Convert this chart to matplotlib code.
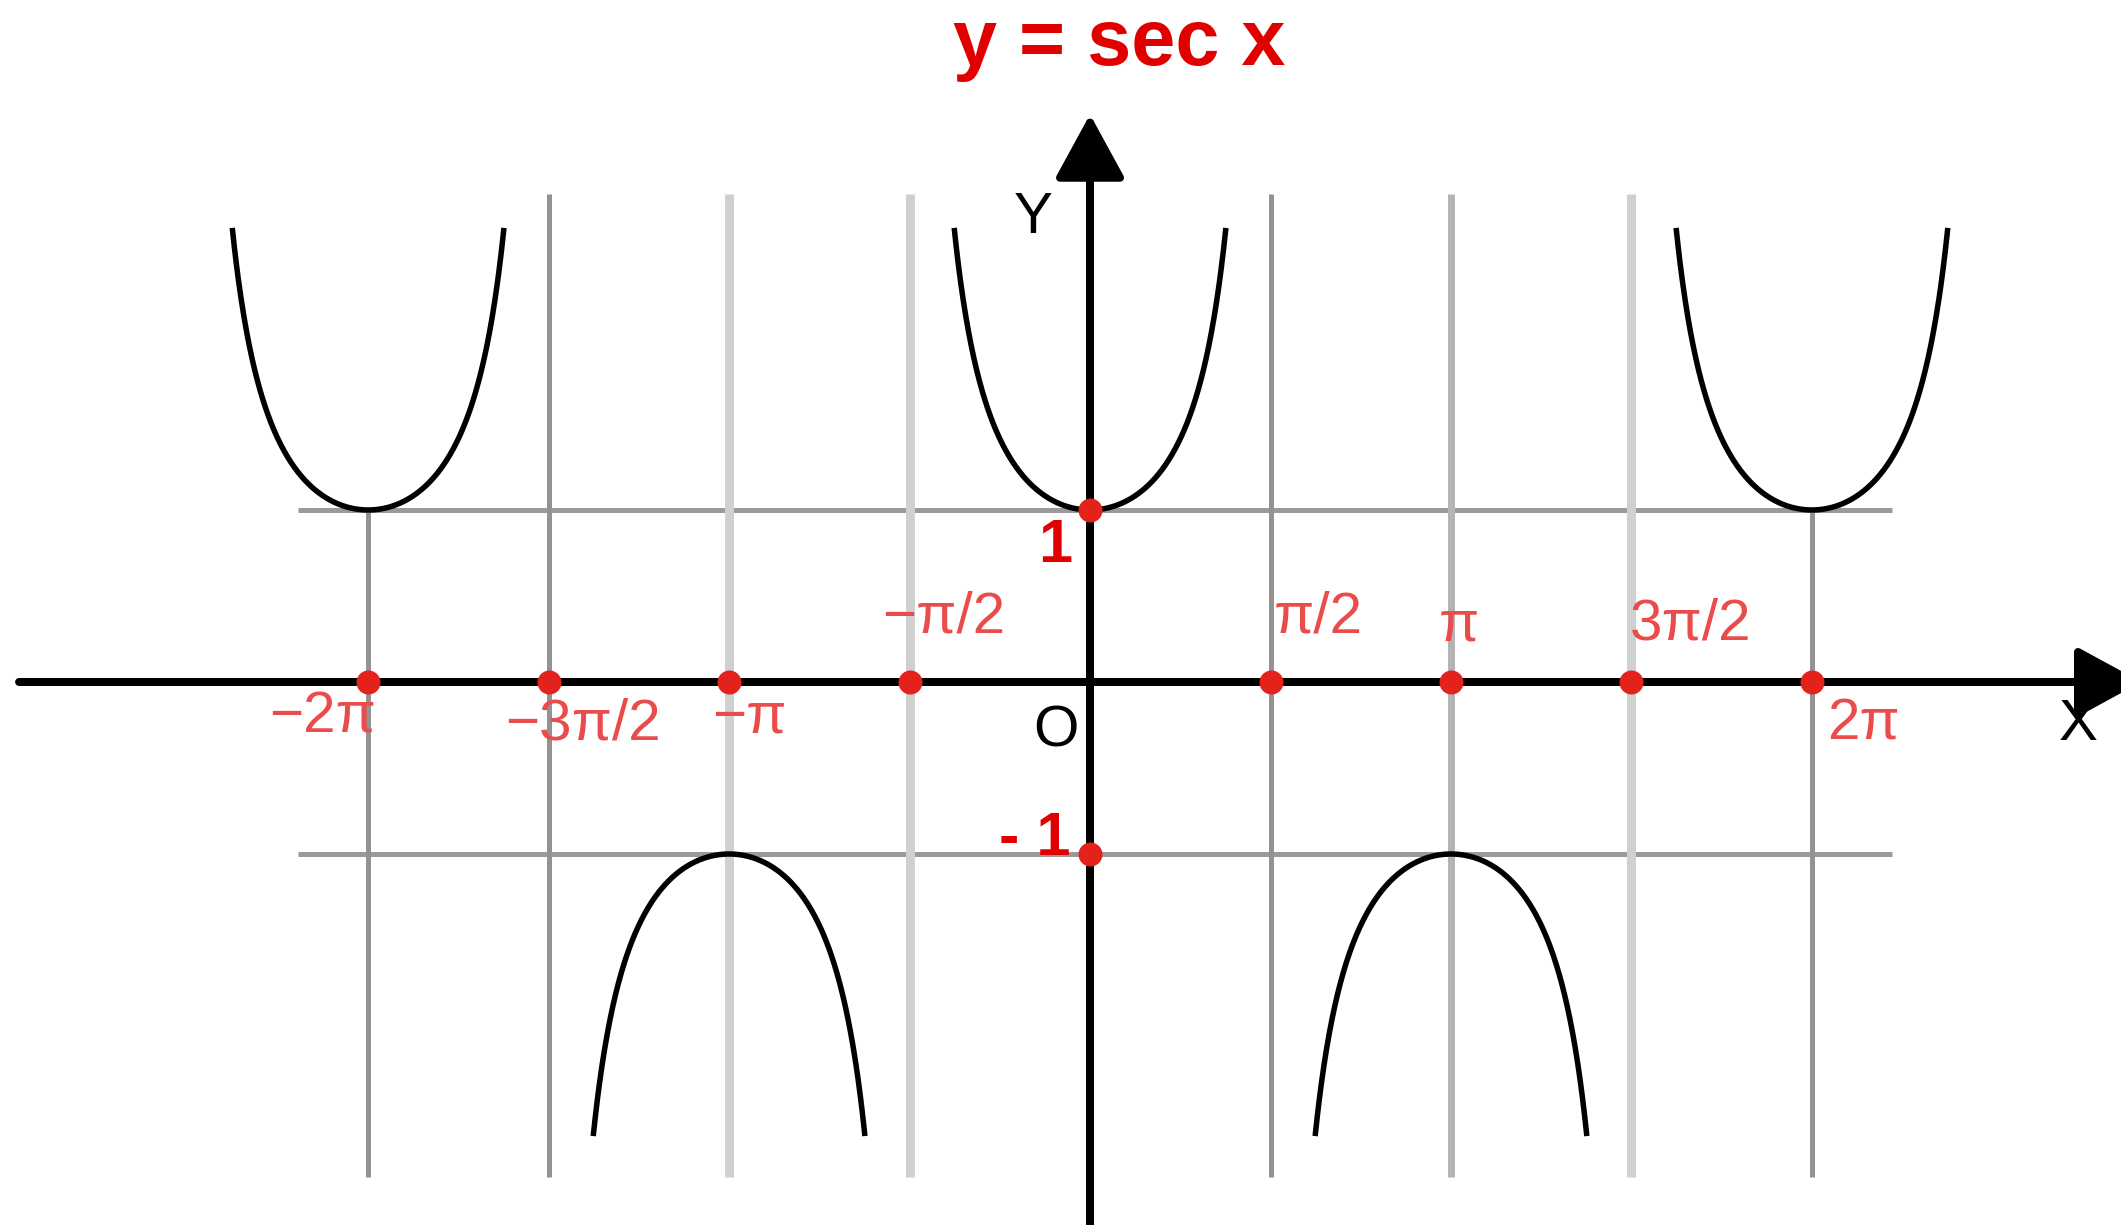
import numpy as np
import matplotlib
matplotlib.use("Agg")
import matplotlib.pyplot as plt

# ---------------- data ----------------
title = "y = sec x"
tick_mult = [-2, -1.5, -1, -0.5, 0.5, 1, 1.5, 2]            # multiples of pi
tick_labels = ["−2π", "−3π/2", "−π", "−π/2", "π/2", "π", "3π/2", "2π"]
# label offsets from the red dot, in pixels (dx right, dy up)
label_offsets = [(-46, -36), (34, -43), (20, -36), (34, 64),
                 (48, 64), (8, 56), (59, 57), (52, -43)]
grid_colors = ["#939393", "#939393", "#d0d0d0", "#d0d0d0",
               "#939393", "#b4b4b4", "#d0d0d0", "#939393"]
grid_widths_px = [5, 5, 9, 9, 5, 7, 9, 5]
grid_top = [1.0, 2.84, 2.84, 2.84, 2.84, 2.84, 2.84, 1.0]
grid_bottom = -2.88
branch_centers = [-2, -1, 0, 1, 2]   # multiples of pi
branch_clip = 2.64                    # |sec x| where the drawn branches stop
level_values = [1, -1]
level_labels = ["1", "- 1"]
level_offsets = [(-35, -37), (-55, 14)]
hline_x = (-2.194, 2.222)            # multiples of pi

# ---------------- figure ----------------
W, H, DPI = 2121, 1225, 100
fig = plt.figure(figsize=(W / DPI, H / DPI), dpi=DPI)
ax = fig.add_axes([0, 0, 1, 1])
ax.set_xlim(-9.487, 8.973)
ax.set_ylim(-3.157, 3.965)
ax.axis("off")

px = 72.0 / DPI  # points per pixel
RED = "#e3231b"
LRED = "#ea4c4c"
FONT = "Liberation Sans"

# horizontal lines y = +-1
for v in level_values:
    ax.plot([hline_x[0] * np.pi, hline_x[1] * np.pi], [v, v],
            color="#9a9a9a", lw=5 * px, solid_capstyle="butt", zorder=1)

# vertical grid lines
for m, c, w, top in zip(tick_mult, grid_colors, grid_widths_px, grid_top):
    ax.plot([m * np.pi, m * np.pi], [grid_bottom, top], color=c, lw=w * px,
            solid_capstyle="butt", zorder=1)

# axes with arrows
arrow_style = "-|>,head_length=%g,head_width=%g" % (55 * px, 30 * px)
ax.annotate("", xy=(9.15, 0), xytext=(-9.321, 0), annotation_clip=False,
            arrowprops=dict(arrowstyle=arrow_style, lw=8 * px, color="black",
                            shrinkA=0, shrinkB=0, mutation_scale=1), zorder=3)
ax.annotate("", xy=(0, 3.30), xytext=(0, -3.2), annotation_clip=False,
            arrowprops=dict(arrowstyle=arrow_style, lw=8 * px, color="black",
                            shrinkA=0, shrinkB=0, mutation_scale=1), zorder=3)

# sec x branches
half = np.arccos(1.0 / branch_clip)
for c in branch_centers:
    x = np.linspace(c * np.pi - half, c * np.pi + half, 400)
    y = 1.0 / np.cos(x)
    ax.plot(x, y, color="black", lw=5.5 * px, solid_capstyle="butt", zorder=4)

# red dots on x axis and tick labels
for m, lab, (dx, dy) in zip(tick_mult, tick_labels, label_offsets):
    ax.plot(m * np.pi, 0, "o", ms=24 * px, color=RED, mec="none", zorder=5)
    ax.annotate(lab, xy=(m * np.pi, 0), xytext=(dx, dy), textcoords="offset pixels",
                ha="center", va="center", fontsize=42, color=LRED, family=FONT, zorder=6)

# red dots on y axis and labels
for v, lab, (dx, dy) in zip(level_values, level_labels, level_offsets):
    ax.plot(0, v, "o", ms=24 * px, color=RED, mec="none", zorder=5)
    ax.annotate(lab, xy=(0, v), xytext=(dx, dy), textcoords="offset pixels",
                ha="center", va="center", fontsize=44, fontweight="bold",
                color="#e00000", family=FONT, zorder=6)

# axis letters
ax.annotate("O", xy=(0, 0), xytext=(-34, -50), textcoords="offset pixels",
            ha="center", va="center", fontsize=42, color="black", family=FONT)
ax.text(1033 / W, 1 - 218 / H, "Y", transform=ax.transAxes, ha="center", va="center",
        fontsize=42, color="black", family=FONT)
ax.text(2078 / W, 1 - 725 / H, "X", transform=ax.transAxes, ha="center", va="center",
        fontsize=42, color="black", family=FONT)

# title
ax.text(1119 / W, 1 - 65 / H, title, transform=ax.transAxes, ha="center", va="baseline",
        fontsize=57, fontweight="bold", color="#e00000", family=FONT)

fig.savefig("out.png", dpi=DPI)
